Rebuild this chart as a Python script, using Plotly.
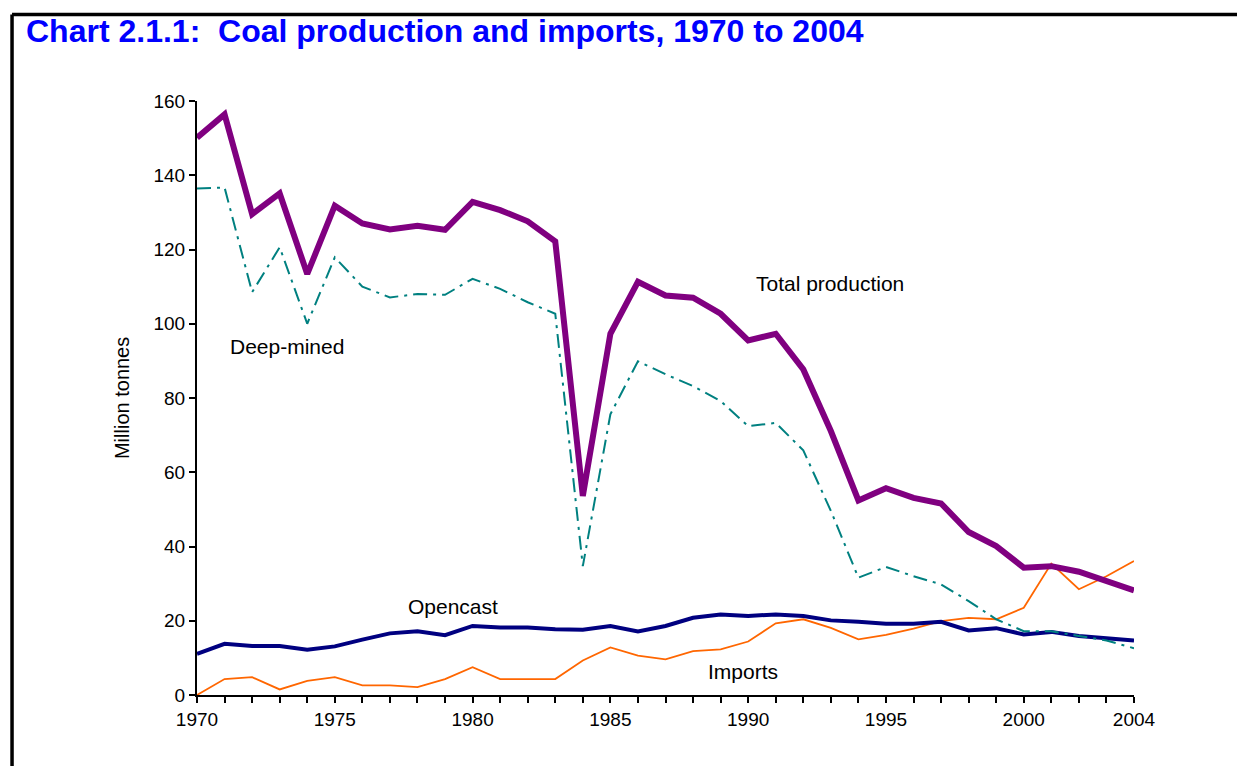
import plotly.graph_objects as go

# years 1970..2004
years = list(range(1970, 2005))

# million tonnes
total_production = [150.1, 156.4, 129.5, 135.1, 113.4, 131.8, 127.0, 125.4, 126.4, 125.3,
                    132.8, 130.6, 127.6, 122.2, 53.6, 97.3, 111.3, 107.6, 107.0, 102.7,
                    95.5, 97.3, 87.7, 71.1, 52.4, 55.7, 53.1, 51.6, 43.9, 40.1,
                    34.3, 34.7, 33.2, 30.7, 28.2]
deep_mined = [136.4, 136.7, 108.5, 120.6, 100.0, 117.9, 110.0, 107.1, 108.0, 107.8,
              112.1, 109.4, 105.8, 102.7, 34.7, 75.6, 89.9, 86.4, 83.2, 79.2,
              72.4, 73.3, 65.9, 49.6, 31.6, 34.5, 32.0, 29.8, 25.3, 20.4,
              17.2, 17.2, 15.9, 14.7, 12.6]
opencast = [11.1, 13.8, 13.2, 13.2, 12.2, 13.1, 14.9, 16.6, 17.2, 16.1,
            18.6, 18.2, 18.2, 17.7, 17.6, 18.6, 17.1, 18.6, 20.8, 21.7,
            21.3, 21.7, 21.3, 20.1, 19.7, 19.2, 19.2, 19.7, 17.4, 18.0,
            16.3, 17.0, 15.9, 15.4, 14.7]
imports = [0.0, 4.3, 4.8, 1.5, 3.8, 4.8, 2.6, 2.6, 2.1, 4.3,
           7.5, 4.3, 4.3, 4.3, 9.3, 12.8, 10.6, 9.6, 11.8, 12.3,
           14.4, 19.3, 20.4, 18.1, 15.0, 16.2, 17.9, 19.9, 20.8, 20.4,
           23.5, 35.4, 28.5, 32.0, 36.1]

label_years = [1970, 1975, 1980, 1985, 1990, 1995, 2000, 2004]
tick_text = [str(y) if y in label_years else "" for y in years]

fig = go.Figure()
fig.add_trace(go.Scatter(x=years, y=imports, mode="lines", name="Imports",
                         line=dict(color="#FF6600", width=1.8)))
fig.add_trace(go.Scatter(x=years, y=opencast, mode="lines", name="Opencast",
                         line=dict(color="#000080", width=4)))
fig.add_trace(go.Scatter(x=years, y=deep_mined, mode="lines", name="Deep-mined",
                         line=dict(color="#008080", width=2, dash="14px,6px,3px,6px")))
fig.add_trace(go.Scatter(x=years, y=total_production, mode="lines", name="Total production",
                         line=dict(color="#800080", width=6)))

font = "Liberation Sans, Arial, sans-serif"
labels = [("Total production", 1992.97, 110.8),
          ("Deep-mined", 1973.27, 93.8),
          ("Opencast", 1979.3, 23.8),
          ("Imports", 1989.8, 6.3)]
for txt, lx, ly in labels:
    fig.add_annotation(x=lx, y=ly, text=txt, showarrow=False,
                       font=dict(family=font, size=21, color="black"))

# chart title
fig.add_annotation(xref="paper", yref="paper", x=-0.185, y=1.152, xanchor="left", yanchor="top",
                   text="<b>Chart 2.1.1:\u00a0 Coal production and imports, 1970 to 2004</b>",
                   showarrow=False, font=dict(family=font, size=32, color="#0000FF"))
# y axis title
fig.add_annotation(xref="paper", yref="paper", x=-0.08, y=0.5, xanchor="center", yanchor="middle",
                   textangle=-90, text="Million tonnes", showarrow=False,
                   font=dict(family=font, size=20, color="black"))

# frame lines at left and top of the page
fig.add_shape(type="line", xref="paper", yref="paper", x0=-0.1974, x1=1.12, y0=1.1457, y1=1.1457,
              line=dict(color="black", width=3.5))
fig.add_shape(type="line", xref="paper", yref="paper", x0=-0.1974, x1=-0.1974, y0=1.1457, y1=-0.13,
              line=dict(color="black", width=3.5))

fig.update_layout(
    width=1237, height=766,
    margin=dict(l=197, r=103, t=101, b=71),
    paper_bgcolor="white", plot_bgcolor="white",
    showlegend=False,
    font=dict(family=font, size=19, color="black"),
    xaxis=dict(range=[1970, 2004], tickvals=years, ticktext=tick_text,
               showgrid=False, zeroline=False, showline=True, linecolor="black", linewidth=2,
               ticks="outside", ticklen=6, tickwidth=2, tickcolor="black",
               tickfont=dict(size=19)),
    yaxis=dict(range=[0, 160], tickvals=[0, 20, 40, 60, 80, 100, 120, 140, 160],
               showgrid=False, zeroline=False, showline=True, linecolor="black", linewidth=2,
               ticks="outside", ticklen=6, tickwidth=2, tickcolor="black",
               tickfont=dict(size=19)),
)

fig.write_html("out.html", config={"displayModeBar": False},
               post_script="document.body.style.margin='0';")
